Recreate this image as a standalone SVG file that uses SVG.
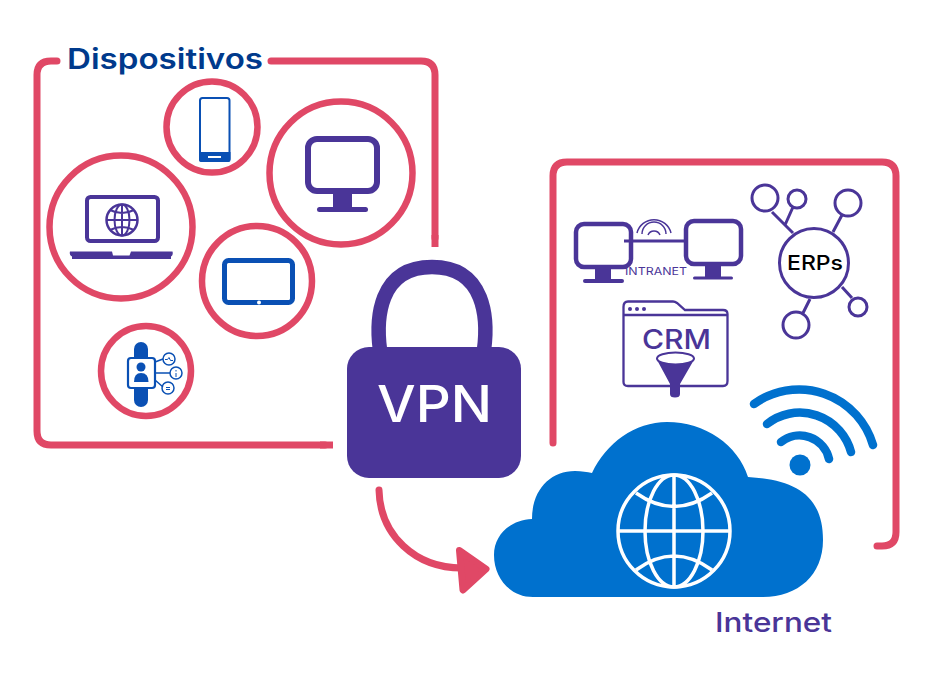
<svg xmlns="http://www.w3.org/2000/svg" width="944" height="673" viewBox="0 0 944 673">
<style>
text{font-family:Inter,"Liberation Sans",sans-serif}
.ring{fill:#fff;stroke:#e04866;stroke-width:6.5}
.frame{fill:none;stroke:#e04866;stroke-width:7;stroke-linecap:round;stroke-linejoin:round}
.butt{fill:none;stroke:#e04866;stroke-width:7}
.p{fill:#4a3598}
.lp{fill:none;stroke:#4a3598}
.bl{fill:#0a50b4}
.lb{fill:none;stroke:#0a50b4}
.wifi{fill:none;stroke:#0071ce;stroke-width:8.5;stroke-linecap:round}
.gl{fill:none;stroke:#fff;stroke-width:3.5}
</style>
<rect width="944" height="673" fill="#fff"/>
<g id="frame-dispositivos">
<path class="frame" d="M57 61H51Q37 61 37 75V431Q37 445 51 445H325"/>
<path class="butt" d="M320 445H333"/>
<path class="frame" d="M271 61H421Q435 61 435 75V238"/>
<path class="butt" d="M435 235V247"/>
<text x="67" y="69" font-size="28" font-weight="600" fill="#003a8c" textLength="196" lengthAdjust="spacingAndGlyphs">Dispositivos</text>
</g>
<g id="frame-internet">
<path class="frame" d="M553 443V176Q553 162 567 162H882Q896 162 896 176V532Q896 546 882 546H877"/>
</g>
<g id="phone">
<circle class="ring" cx="212" cy="127" r="45.5"/>
<rect class="lb" x="200" y="98" width="29.5" height="63" rx="2.5" stroke-width="2"/>
<path class="bl" d="M199 152H230.500V160Q230.500 162 228.500 162H201Q199 162 199 160Z"/>
<rect x="208" y="156" width="13" height="2" fill="#fff"/>
</g>
<g id="monitor">
<circle class="ring" cx="341" cy="173" r="71.500"/>
<rect class="lp" x="308" y="139" width="69" height="52" rx="9" stroke-width="6"/>
<rect class="p" x="333" y="193" width="19" height="15"/>
<rect class="p" x="317" y="207" width="51" height="5" rx="2.500"/>
</g>
<g id="laptop">
<circle class="ring" cx="121" cy="227" r="71.500"/>
<rect class="lp" x="87" y="197" width="71" height="44" rx="3.500" stroke-width="4"/>
<circle class="lp" cx="122" cy="220" r="15.500" stroke-width="2.500"/>
<ellipse class="lp" cx="122" cy="220" rx="7.500" ry="15.500" stroke-width="2"/>
<path class="lp" d="M122 204.500V235.500M106.500 220H137.500M110 210Q122 216 134 210M110 230Q122 224 134 230" stroke-width="2"/>
<path class="p" d="M70 251.500H112L113 255.500H129.500L131 251.500H172.500Q173.500 255 171 256.500V259H72V256.500Q69 255 70 251.500Z"/>
</g>
<g id="tablet">
<circle class="ring" cx="257" cy="281" r="55"/>
<rect class="lb" x="224.500" y="260.500" width="68" height="42" rx="4" stroke-width="5"/>
<circle cx="259" cy="302.500" r="2" fill="#fff"/>
</g>
<g id="watch">
<circle class="ring" cx="146" cy="371" r="45"/>
<rect class="bl" x="134" y="342" width="14" height="65" rx="7"/>
<rect x="128" y="358" width="27" height="30" rx="3" fill="#fff" stroke="#0a50b4" stroke-width="2.200"/>
<circle class="bl" cx="141" cy="367" r="4.500"/>
<path class="bl" d="M134 382Q134 373 141 373Q148.500 373 148.500 382Z"/>
<path class="lb" d="M155 362L163 359M155 373H170M155 380L163 387" stroke-width="1.500"/>
<circle class="lb" cx="169" cy="359" r="6" stroke-width="1.500"/>
<circle class="lb" cx="176" cy="373" r="6" stroke-width="1.500"/>
<circle class="lb" cx="168" cy="388" r="6" stroke-width="1.500"/>
<path class="lb" d="M165 359.500H167.500L169 357.500L170.500 360.500H173M176 370V371.500M176 373V377M166 387.500H170M166 389.500H170" stroke-width="1"/>
</g>
<g id="vpn">
<path class="lp" d="M380 350C376 320 378 267 432 267C486 267 488 320 484 350" stroke-width="14.500"/>
<rect class="p" x="347" y="347" width="174" height="131" rx="22"/>
<text x="377" y="422" font-size="51" font-weight="500" fill="#fff" textLength="115" lengthAdjust="spacingAndGlyphs">VPN</text>
</g>
<g id="intranet">
<rect class="lp" x="576" y="224" width="55" height="43" rx="8" stroke-width="4.500"/>
<rect class="p" x="595" y="268" width="16" height="11"/>
<rect class="p" x="583" y="279" width="41" height="4" rx="2"/>
<rect class="lp" x="686" y="221" width="55" height="43" rx="8" stroke-width="4.500"/>
<rect class="p" x="705" y="265" width="16" height="12"/>
<rect class="p" x="693" y="276.500" width="40" height="3" rx="1.500"/>
<path class="lp" d="M624 241H685" stroke-width="3"/>
<path class="lp" d="M637 233A17.500 17.500 0 0 1 671 233M642 234A12 12 0 0 1 666 234M648 235A6.500 6.500 0 0 1 660 235" stroke-width="1.500"/>
<text x="625" y="275" font-size="10.500" font-weight="400" fill="#4a3598" textLength="62" lengthAdjust="spacingAndGlyphs">INTRANET</text>
</g>
<g id="erps">
<path class="lp" d="M772 212L793 233M793 207L785 225M842 215L833 232M810 299L803 313M842 287L852 298" stroke-width="3"/>
<circle class="lp" cx="765" cy="198" r="13" stroke-width="3"/>
<circle class="lp" cx="797" cy="199" r="9" stroke-width="3"/>
<circle class="lp" cx="848" cy="203" r="13" stroke-width="3"/>
<circle class="lp" cx="796" cy="325" r="13" stroke-width="3"/>
<circle class="lp" cx="858" cy="307" r="9" stroke-width="3"/>
<circle class="lp" cx="814" cy="263" r="34.500" stroke-width="3"/>
<text x="787" y="270" font-size="20" font-weight="500" fill="#000" textLength="56" lengthAdjust="spacingAndGlyphs">ERPs</text>
</g>
<g id="crm">
<path class="lp" d="M623.500 382V307Q623.500 301.500 628 301.500H673Q675 301.500 677 303L685 310H723Q727.500 310 727.500 314V381Q727.500 386 723 386H628Q623.500 386 623.500 382Z" stroke-width="2.300"/>
<path class="lp" d="M623.500 315H727.500" stroke-width="2.300"/>
<circle class="p" cx="630" cy="309" r="2"/><circle class="p" cx="637" cy="309" r="2"/><circle class="p" cx="644" cy="309" r="2"/>
<text x="642" y="349" font-size="27" font-weight="500" fill="#4a3598" textLength="69" lengthAdjust="spacingAndGlyphs">CRM</text>
<path class="p" d="M656 358L670 384V394Q670 397.500 675 397.500Q680 397.500 680 394V384L695 358Q675 367 656 358Z"/>
<ellipse cx="675.500" cy="358.500" rx="18.500" ry="6" fill="#fff" stroke="#4a3598" stroke-width="2"/>
</g>
<g id="internet">
<path d="M533 597C510 597 494 578 494 555C494 535 510 520 532 519C532 490 550 471 575 471C582 471 587 472 592 473C606 443 635 422 667 422C705 422 738 445 748 477C795 480 823 495 823 540C823 575 798 597 763 597Z" fill="#0071ce"/>
<circle class="gl" cx="674" cy="531" r="56"/>
<ellipse class="gl" cx="674" cy="531" rx="29" ry="56"/>
<path class="gl" d="M674 475V587M618 531H730M636 493Q674 520 712 493M636 570Q674 542 712 570"/>
<circle cx="800" cy="465" r="10.500" fill="#0071ce"/>
<path class="wifi" d="M754 404A77 77 0 0 1 873 445M767 424A53 53 0 0 1 851 452M781 442A30 30 0 0 1 829 459"/>
<text x="715" y="632" font-size="27" font-weight="500" fill="#4a3598" textLength="117" lengthAdjust="spacingAndGlyphs">Internet</text>
</g>
<g id="connectors">
<path d="M379 490C380 535 415 568 462 568" fill="none" stroke="#e04866" stroke-width="7" stroke-linecap="round"/>
<path d="M459.500 550.500L486 569L463 590Z" fill="#e04866" stroke="#e04866" stroke-width="7" stroke-linejoin="round"/>
</g>
</svg>
